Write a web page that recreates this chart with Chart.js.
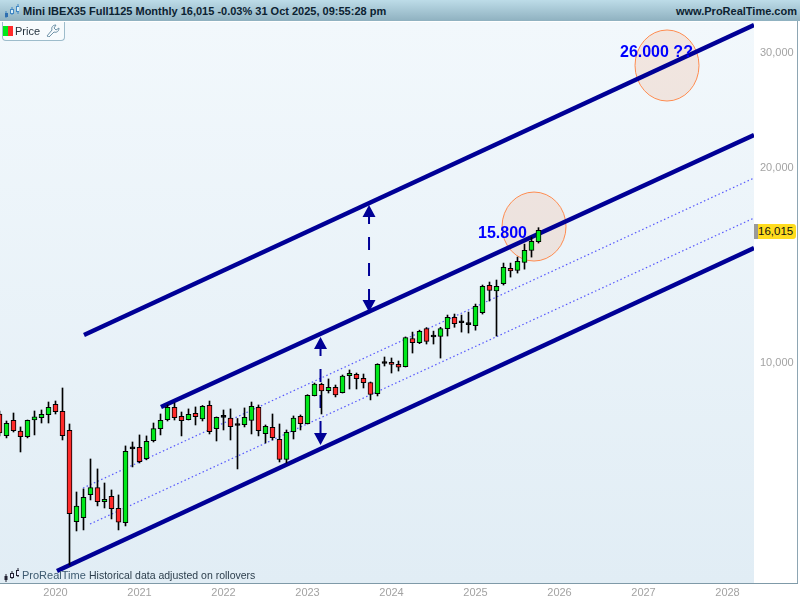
<!DOCTYPE html>
<html>
<head>
<meta charset="utf-8">
<title>Mini IBEX35 Monthly</title>
<script src="https://cdn.jsdelivr.net/npm/chart.js@4/dist/chart.umd.min.js"></script>
<style>
  html, body { margin: 0; padding: 0; background: #fff; }
  #wrap { position: relative; width: 800px; height: 600px; overflow: hidden; font-family: "Liberation Sans", Arial, sans-serif; }
  canvas { position: absolute; left: 0; top: 0; }
  #header { position: absolute; left: 0; top: 0; width: 800px; height: 21px; background: linear-gradient(#bddce8, #8fb1c0); }
  #title { position: absolute; left: 23px; top: 5px; font-size: 11px; font-weight: bold; color: #0c2231; white-space: nowrap; }
  #site { position: absolute; right: 3px; top: 5px; font-size: 11px; font-weight: bold; color: #0c2231; white-space: nowrap; }
  #legend { position: absolute; left: 2px; top: 22px; width: 61px; height: 18px; background: #f7fbfd; border: 1px solid #9dbccb; border-top: 0; border-radius: 0 0 4px 4px; }
  #swatch { position: absolute; left: 0px; top: 4px; width: 10px; height: 10px; background: linear-gradient(90deg, #00e81a 50%, #ff2b2b 50%); }
  #legend span { position: absolute; left: 12px; top: 3px; font-size: 11px; color: #1f2d38; }
  #legend svg { position: absolute; left: 43px; top: 2px; }
  #brand { position: absolute; left: 22px; top: 569px; font-size: 11px; color: #3d5a70; white-space: nowrap; }
  #note { position: absolute; left: 89px; top: 569px; font-size: 10.5px; color: #2c3e4c; white-space: nowrap; }
  #edge { position: absolute; left: 797px; top: 21px; width: 1px; height: 562px; background: #8ea6b3; }
  #tagbar { position: absolute; left: 754px; top: 224px; width: 4px; height: 15px; background: #9a9a9a; }
  #tag { position: absolute; left: 758px; top: 224px; width: 35px; height: 15px; line-height: 15px; padding-right: 3px; background: #ffdc1e; border-radius: 0 3px 3px 0; font-size: 11.5px; text-align: center; color: #111; }
  .icon { position: absolute; }
</style>
</head>
<body>
<div id="wrap">
  <canvas id="chart" width="800" height="600"></canvas>
  <div id="header">
    <svg class="icon" style="left:4px;top:3px" width="15" height="16">
      <path d="M2 8v7M8 4v8M14 1v10" stroke="#3f86c4" fill="none"/>
      <rect x="1" y="10" width="3" height="4" fill="#2f6fb0"/>
      <rect x="6.5" y="6.5" width="3" height="4" fill="#d8eef8" stroke="#3f86c4"/>
      <rect x="12.5" y="3.5" width="3" height="5" fill="#d8eef8" stroke="#3f86c4"/>
    </svg>
    <div id="title">Mini IBEX35 Full1125 Monthly 16,015 -0.03% 31 Oct 2025, 09:55:28 pm</div>
    <div id="site">www.ProRealTime.com</div>
  </div>
  <div id="legend">
    <div id="swatch"></div>
    <span>Price</span>
    <svg width="14" height="13"><path d="M1 12l5-6c-1-3 1-5 4-5l-2 3 2 2 3-2c0 3-2 5-5 4l-5 5z" fill="none" stroke="#6f93a8"/></svg>
  </div>
  <svg class="icon" style="left:4px;top:568px" width="15" height="15">
    <path d="M2 6v8M8 3v8M14 0v9" stroke="#223" fill="none"/>
    <rect x="0.5" y="8" width="3" height="4" fill="#223"/>
    <rect x="6.5" y="5.5" width="3" height="4" fill="#eef" stroke="#223"/>
    <rect x="12.5" y="2.5" width="3" height="5" fill="#eef" stroke="#223"/>
  </svg>
  <div id="brand">ProRealTime</div>
  <div id="note">Historical data adjusted on rollovers</div>
  <div id="edge"></div>
  <div id="tagbar"></div>
  <div id="tag">16,015</div>
</div>
<script>
// months counted from Jan 2020, first candle is May 2019
const firstMonth = -8;
const opens = [8346,7730,8162,7859,7703,8171,8240,8327,
  8639,8427,7879,5698,5780,6271,6428,6117,6235,5975,5677,7375,
  7419,7126,7593,7923,8180,8549,8280,8180,8367,8203,8609,7923,
  8245,8226,8014,8036,8162,8549,7784,7964,7631,7102,7839,8280,
  8064,8907,9273,9066,9176,9000,9560,9608,9475,9332,8969,9983,
  10025,9955,9870,10910,10746,11300,10966,10990,11300,11760,11535,11456,
  11418,11951,13172,12918,13247,13986,13890,14290,14911,15375];
const highs = [8435,8142,8376,7972,8171,8436,8466,8709,
  8740,9153,8056,6330,6399,7116,6869,6535,6376,6264,7453,7558,
  7749,7722,8084,8347,8618,8678,8406,8498,8558,8603,8740,8260,
  8466,8498,8215,8528,8709,8618,8028,8347,8056,7887,8289,8318,
  8938,9315,9315,9451,9250,9584,9757,9652,9618,9349,9975,10216,
  10180,10072,10970,11160,11236,11340,11198,11352,11855,11897,11855,11981,
  12326,13186,13327,13422,14254,14254,14560,15245,15630,16160];
const lows = [7720,7668,7831,7295,7668,7749,8084,8084,
  8347,7612,4887,5513,5533,6154,6025,5981,5753,5533,5612,6918,
  7016,7094,7558,7749,8142,8171,7722,8171,8028,8142,7776,7585,
  7887,7612,6869,7972,7776,7722,7531,7612,7041,7016,7639,7887,
  8056,8898,8347,8991,8867,8991,9121,9121,9153,8774,8898,9895,
  9652,9720,9860,10361,10710,10697,10697,10178,11005,11352,11160,11122,
  11236,11897,12459,11005,13186,13563,13758,13950,14560,15302];
const closes = [7803,8075,7867,7703,8162,8260,8338,8549,
  8415,7730,5862,6019,6213,6428,6117,6170,5966,5685,7313,7375,
  7051,7577,7923,8162,8549,8240,8151,8338,8269,8579,7839,8251,
  8245,7980,8014,8251,8579,7867,7992,7676,7102,7823,8226,8064,
  8920,9283,9056,9176,8929,9550,9642,9461,9325,8944,9955,9983,
  9955,9850,10948,10746,11187,10798,10966,11300,11760,11496,11535,11456,
  12222,13125,12937,13125,14035,13867,14343,14911,15398,16015];

const yearLabels = ['2020','2021','2022','2023','2024','2025','2026','2027','2028'];
const yearTicks = [0,12,24,36,48,60,72,84,96];
const priceTicks = [10000,20000,30000];

// trend lines, [month, price] at each end
const channelTop = [[4.07,11044],[99.79,33155]];
const channelMid = [[15.07,8555],[99.79,22446]];
const channelLow = [[0.21,4783],[99.79,15035]];
const dottedUpper = [[3.93,6419],[99.79,19272]];
const dottedLower = [[4.93,5650],[99.79,16723]];

// vertical double arrows, [month, top price, bottom price]
const arrowUpper = [44.79,17512,11983];
const arrowLower = [37.86,10966,7477];

// ellipses, [month, half width in months, top price, bottom price]
const ellipses = [[68.36,4.57,18337,14358],[87.36,4.57,32573,25322]];
// text notes, [label, month, price]
const notes = [['15.800',60.36,15578],['26.000 ??',80.64,29598]];

const GREEN = '#00e81a';
const RED = '#ff2b2b';
const NAVY = '#000096';

const toPoints = line => line.map(p => ({ x: p[0], y: p[1] }));
const thick = line => ({ type: 'line', data: toPoints(line), borderColor: NAVY, borderWidth: 4.5, pointRadius: 0, order: 6 });
const dotted = line => ({ type: 'line', data: toPoints(line), borderColor: 'rgba(50,50,255,0.8)', borderWidth: 1.2, borderDash: [1.5, 2.5], pointRadius: 0, order: 7 });
const dashed = a => ({ type: 'line', data: [{ x: a[0], y: a[1] }, { x: a[0], y: a[2] }], borderColor: NAVY, borderWidth: 2, borderDash: [13, 13], borderDashOffset: 20, pointRadius: 0, order: 5 });

const decorate = {
  id: 'decorate',
  beforeDraw(chart) {
    const { ctx, chartArea: a } = chart;
    const g = ctx.createLinearGradient(0, a.top, 0, a.bottom);
    g.addColorStop(0, '#f2f8fc');
    g.addColorStop(1, '#e1edf5');
    ctx.save();
    ctx.fillStyle = g;
    ctx.fillRect(a.left, a.top, a.right - a.left, a.bottom - a.top);
    // bottom axis rule
    ctx.fillStyle = '#7f9aa8';
    ctx.fillRect(0, a.bottom, 798, 1);
    ctx.restore();
  },
  beforeDatasetsDraw(chart) {
    const { ctx, scales: { x, y } } = chart;
    ctx.save();
    ellipses.forEach(e => {
      const cx = x.getPixelForValue(e[0]);
      const rx = x.getPixelForValue(e[0] + e[1]) - cx;
      const top = y.getPixelForValue(e[2]);
      const bot = y.getPixelForValue(e[3]);
      ctx.beginPath();
      ctx.ellipse(cx, (top + bot) / 2, rx, (bot - top) / 2, 0, 0, Math.PI * 2);
      ctx.fillStyle = 'rgba(245,140,90,0.17)';
      ctx.fill();
      ctx.strokeStyle = '#ff8c50';
      ctx.lineWidth = 1;
      ctx.stroke();
    });
    ctx.restore();
  },
  afterDatasetsDraw(chart) {
    const { ctx, scales: { x, y } } = chart;
    ctx.save();
    ctx.fillStyle = NAVY;
    [arrowUpper, arrowLower].forEach(a => {
      const px = x.getPixelForValue(a[0]);
      const top = y.getPixelForValue(a[1]);
      const bot = y.getPixelForValue(a[2]);
      ctx.beginPath();
      ctx.moveTo(px, top);
      ctx.lineTo(px - 6.5, top + 12);
      ctx.lineTo(px + 6.5, top + 12);
      ctx.closePath();
      ctx.moveTo(px, bot);
      ctx.lineTo(px - 6.5, bot - 12);
      ctx.lineTo(px + 6.5, bot - 12);
      ctx.closePath();
      ctx.fill();
    });
    ctx.font = 'bold 16px "Liberation Sans", Arial, sans-serif';
    ctx.fillStyle = '#0000ff';
    notes.forEach(n => ctx.fillText(n[0], x.getPixelForValue(n[1]), y.getPixelForValue(n[2])));
    ctx.restore();
  }
};

new Chart(document.getElementById('chart'), {
  type: 'bar',
  data: {
    datasets: [
      {
        data: opens.map((o, i) => ({ x: firstMonth + i, y: [o, closes[i]] })),
        backgroundColor: opens.map((o, i) => closes[i] > o ? GREEN : closes[i] < o ? RED : '#000'),
        borderColor: '#000',
        borderWidth: 1,
        borderSkipped: false,
        barThickness: 5,
        minBarLength: 2,
        grouped: false,
        order: 1
      },
      {
        data: highs.map((h, i) => ({ x: firstMonth + i, y: [lows[i], h] })),
        backgroundColor: '#000',
        borderWidth: 0,
        barThickness: 1,
        grouped: false,
        order: 2
      },
      dashed(arrowUpper),
      dashed(arrowLower),
      thick(channelTop),
      thick(channelMid),
      thick(channelLow),
      dotted(dottedUpper),
      dotted(dottedLower)
    ]
  },
  plugins: [decorate],
  options: {
    responsive: false,
    animation: false,
    layout: { padding: { top: 22 } },
    plugins: { legend: { display: false }, tooltip: { enabled: false } },
    scales: {
      x: {
        type: 'linear',
        offset: false,
        min: -7.9286,
        max: 99.786,
        grid: { display: false, drawTicks: false },
        border: { display: false },
        afterBuildTicks: s => { s.ticks = yearTicks.map(v => ({ value: v })); },
        afterFit: s => { s.height = 17; },
        ticks: {
          autoSkip: false,
          maxRotation: 0,
          padding: 3,
          color: '#a3a3a3',
          font: { family: '"Liberation Sans", Arial, sans-serif', size: 11 },
          callback: v => yearLabels[yearTicks.indexOf(v)]
        }
      },
      y: {
        type: 'logarithmic',
        position: 'right',
        min: 4584,
        max: 33510,
        grid: { display: false, drawTicks: false },
        border: { display: false },
        afterBuildTicks: s => { s.ticks = priceTicks.map(v => ({ value: v })); },
        afterFit: s => { s.width = 46; },
        ticks: {
          autoSkip: false,
          padding: 6,
          color: '#a3a3a3',
          font: { family: '"Liberation Sans", Arial, sans-serif', size: 11 },
          callback: v => v.toLocaleString('en-US')
        }
      }
    }
  }
});
</script>
</body>
</html>
